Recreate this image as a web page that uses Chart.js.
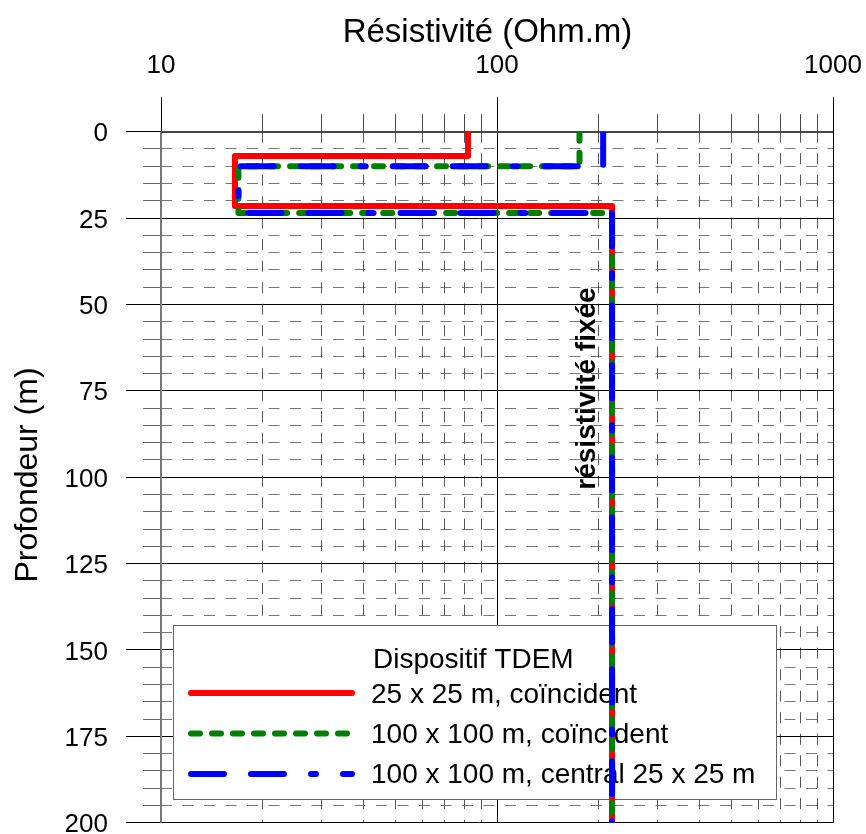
<!DOCTYPE html>
<html>
<head>
<meta charset="utf-8">
<script src="https://cdn.jsdelivr.net/npm/chart.js@4.4.1/dist/chart.umd.min.js"></script>
<style>
  html, body { margin: 0; padding: 0; background: #fff; }
  #wrap { width: 866px; height: 834px; }
</style>
</head>
<body>
<div id="wrap"><canvas id="profil" width="866" height="834"></canvas></div>
<script>
// Modèles en couches (résistivité en Ohm.m, base des couches en m)
const seriesLabels = ['25 x 25 m, coïncident', '100 x 100 m, coïncident', '100 x 100 m, central 25 x 25 m'];
const rho25 = [82, 16.6, 220];
const base25 = [7, 21.5];
const rho100 = [176, 17, 220];
const base100 = [10, 23.5];
const rhoCentral = [207, 17, 220];
const baseCentral = [10, 23.5];
const maxDepth = 200;

const xMajorTicks = [10, 100, 1000];
const xMinorTicks = [20, 30, 40, 50, 60, 70, 80, 90, 200, 300, 400, 500, 600, 700, 800, 900];
const yMajorTicks = [0, 25, 50, 75, 100, 125, 150, 175, 200];
const yMinorTicks = [5, 10, 15, 20, 30, 35, 40, 45, 55, 60, 65, 70, 80, 85, 90, 95,
  105, 110, 115, 120, 130, 135, 140, 145, 155, 160, 165, 170, 180, 185, 190, 195];

const FONT = '"Liberation Sans", Arial, Helvetica, sans-serif';
const colors = ['#ff0000', '#008000', '#0000ff'];
const dashes = [[], [9, 12], [33, 27, 33, 27, 5, 27]];

// profil en escalier : une verticale par couche, une horizontale par interface
function stepProfile(rho, bases) {
  const pts = [];
  let top = 0;
  rho.forEach((r, i) => {
    const bottom = i < bases.length ? bases[i] : maxDepth;
    pts.push({ x: r, y: top }, { x: r, y: bottom });
    top = bottom;
  });
  return pts;
}

const crisp = v => Math.round(v - 0.5) + 0.5;

function line(ctx, x1, y1, x2, y2) {
  ctx.beginPath();
  ctx.moveTo(x1, y1);
  ctx.lineTo(x2, y2);
  ctx.stroke();
}

function drawLegend(ctx) {
  ctx.save();
  ctx.fillStyle = '#fff';
  ctx.fillRect(173.5, 625.5, 603, 174);
  ctx.strokeStyle = '#666';
  ctx.lineWidth = 1;
  ctx.strokeRect(173.5, 625.5, 603, 174);

  ctx.fillStyle = '#000';
  ctx.font = `28px ${FONT}`;
  ctx.textAlign = 'left';
  ctx.textBaseline = 'alphabetic';
  ctx.fillText('Dispositif TDEM', 373, 668);

  seriesLabels.forEach((label, i) => {
    const ly = 693 + i * 40.5;
    ctx.strokeStyle = colors[i];
    ctx.lineWidth = 6;
    ctx.lineCap = 'round';
    ctx.setLineDash(dashes[i]);
    line(ctx, 191, ly, 352, ly);
    ctx.setLineDash([]);
    ctx.fillText(label, 371, 703.3 + i * 40);
  });
  ctx.restore();
}

const gridPlugin = {
  id: 'gridPlugin',
  beforeDatasetsDraw(chart) {
    const { ctx, chartArea: a, scales: { x, y } } = chart;
    ctx.save();
    ctx.lineWidth = 1;

    // graduations secondaires
    yMinorTicks.forEach(v => {
      const py = crisp(y.getPixelForValue(v));
      ctx.strokeStyle = '#666';
      ctx.setLineDash([]);
      line(ctx, a.left - 18, py, a.left, py);
      ctx.strokeStyle = '#777';
      ctx.setLineDash([11, 10.5]);
      line(ctx, a.left, py, a.right, py);
    });
    xMinorTicks.forEach(v => {
      const px = crisp(x.getPixelForValue(v));
      ctx.strokeStyle = '#444';
      ctx.setLineDash([]);
      line(ctx, px, a.top - 17.5, px, a.top);
      ctx.strokeStyle = '#555';
      ctx.setLineDash([11, 10.5]);
      line(ctx, px, a.top, px, a.bottom);
    });

    // graduations principales
    ctx.setLineDash([]);
    ctx.strokeStyle = '#000';
    yMajorTicks.forEach(v => {
      const py = crisp(y.getPixelForValue(v));
      line(ctx, a.left - 35, py, a.right, py);
    });
    xMajorTicks.forEach(v => {
      const px = crisp(x.getPixelForValue(v));
      line(ctx, px, a.top - 34.5, px, a.bottom);
    });

    // bords du cadre
    ctx.lineWidth = 2;
    ctx.strokeStyle = '#777';
    line(ctx, Math.round(a.left), a.top, Math.round(a.left), a.bottom);
    ctx.strokeStyle = '#444';
    line(ctx, a.left, Math.round(a.top), a.right, Math.round(a.top));
    ctx.restore();

    drawLegend(ctx);
  },
  afterDatasetsDraw(chart) {
    const { ctx } = chart;
    ctx.save();
    ctx.fillStyle = '#000';
    ctx.textAlign = 'center';
    ctx.textBaseline = 'alphabetic';

    ctx.font = `bold 28px ${FONT}`;
    ctx.save();
    ctx.translate(595, 388.5);
    ctx.rotate(-Math.PI / 2);
    ctx.fillText('résistivité fixée', 0, 0);
    ctx.restore();

    ctx.font = `33px ${FONT}`;
    ctx.fillText('Résistivité (Ohm.m)', 487.5, 41.7);

    ctx.font = `32px ${FONT}`;
    ctx.translate(37, 475);
    ctx.rotate(-Math.PI / 2);
    ctx.fillText('Profondeur (m)', 0, 0);
    ctx.restore();
  }
};

const profiles = [
  stepProfile(rho25, base25),
  stepProfile(rho100, base100),
  stepProfile(rhoCentral, baseCentral)
];

new Chart(document.getElementById('profil'), {
  type: 'scatter',
  data: {
    datasets: profiles.map((pts, i) => ({
      label: seriesLabels[i],
      data: pts,
      showLine: true,
      borderColor: colors[i],
      backgroundColor: colors[i],
      borderWidth: 6,
      borderDash: dashes[i],
      borderCapStyle: 'round',
      borderJoinStyle: 'round',
      pointRadius: 0,
      pointHoverRadius: 0,
      order: 3 - i
    }))
  },
  options: {
    responsive: false,
    animation: false,
    events: [],
    layout: { padding: { left: 0, top: 0, right: 33, bottom: 11.3 } },
    scales: {
      x: {
        type: 'logarithmic',
        position: 'top',
        min: 10,
        max: 1000,
        afterBuildTicks: s => { s.ticks = xMajorTicks.map(v => ({ value: v })); },
        afterFit: s => {
          s.height = 131.7;
          s.paddingLeft = 0;
          s.paddingRight = 0;
        },
        grid: { display: false, drawTicks: false },
        border: { display: false },
        ticks: {
          autoSkip: false,
          maxRotation: 0,
          padding: 50,
          color: '#000',
          font: { family: FONT, size: 26 },
          callback: v => String(v)
        }
      },
      y: {
        type: 'linear',
        position: 'left',
        reverse: true,
        min: 0,
        max: maxDepth,
        afterBuildTicks: s => { s.ticks = yMajorTicks.map(v => ({ value: v })); },
        afterFit: s => {
          s.width = 161;
          s.paddingTop = 0;
          s.paddingBottom = 0;
        },
        grid: { display: false, drawTicks: false },
        border: { display: false },
        ticks: {
          padding: 53,
          labelOffset: 2.5,
          color: '#000',
          font: { family: FONT, size: 26 },
          callback: v => String(v)
        }
      }
    },
    plugins: {
      legend: { display: false },
      tooltip: { enabled: false }
    }
  },
  plugins: [gridPlugin]
});
</script>
</body>
</html>
